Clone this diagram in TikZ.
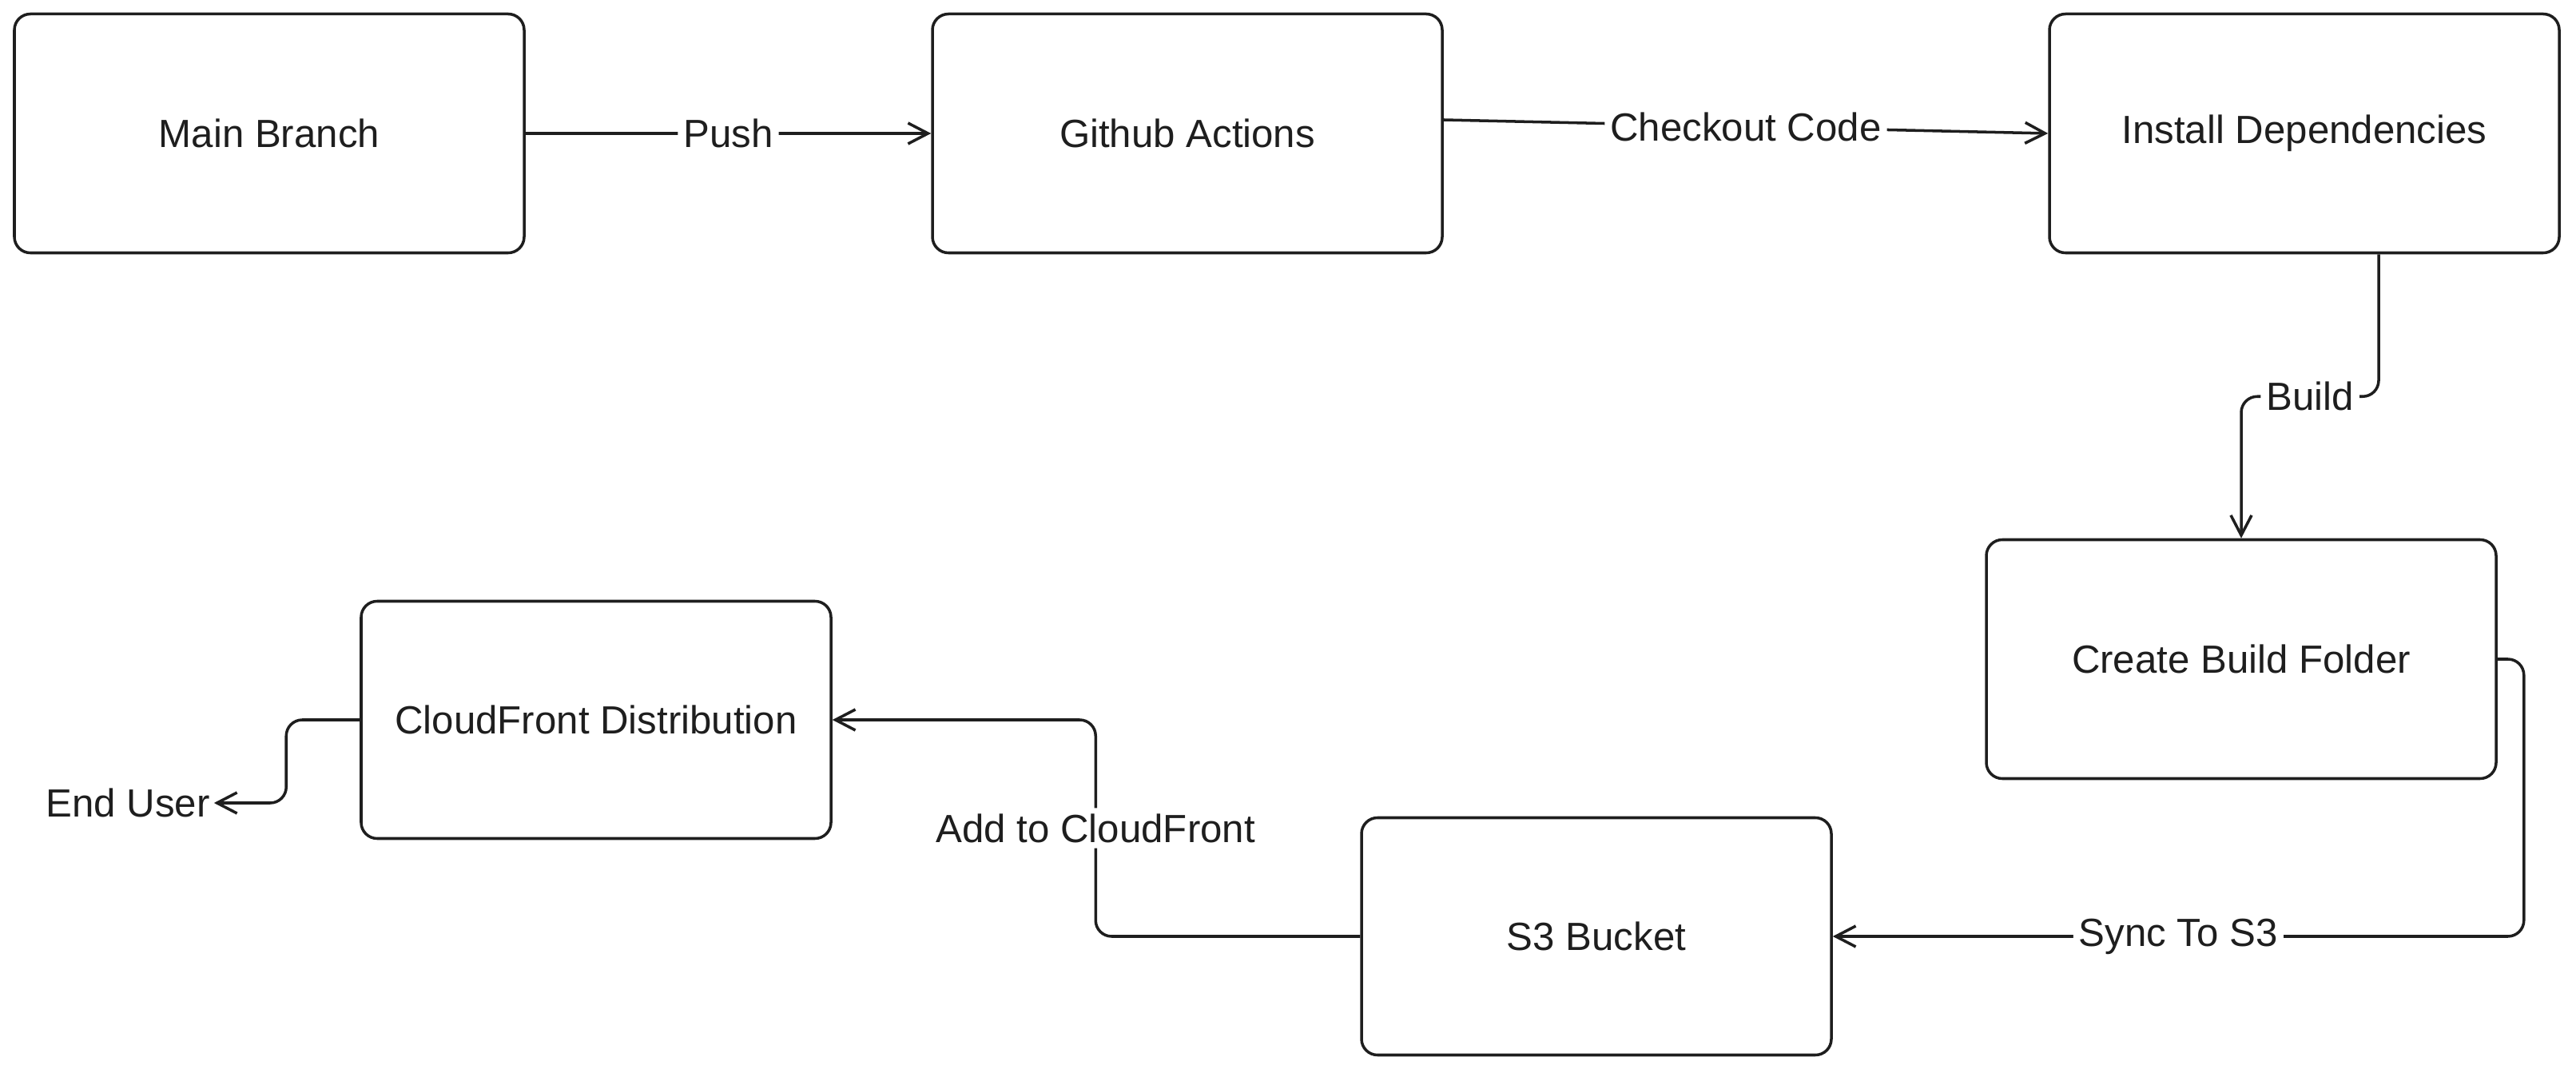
\documentclass[tikz,border=0pt]{standalone}
\usepackage{fontspec}
\setmainfont{Liberation Sans}
\definecolor{customdark}{RGB}{30, 30, 30}
\usetikzlibrary{arrows.meta,positioning}

\begin{document}
\begin{tikzpicture}[line width=1pt, draw=customdark, text=customdark,
    every node/.style={font=\fontsize{14}{17}\selectfont},
    box/.style={draw=customdark, rounded corners=0.2cm, minimum width=6.38cm, minimum height=2.99cm},
    smallbox/.style={box, minimum width=5.88cm, minimum height=2.97cm},
    arr/.style={-{Straight Barb[length=2.5mm, width=2.6mm]}, rounded corners=0.2cm},
    lbl/.style={fill=white, inner sep=2pt}]
    \useasboundingbox (0,0) rectangle (32.24,-13.43);

    \node[box] (main) at (3.37,-1.67) {Main Branch};
    \node[box] (gh) at (14.86,-1.67) {Github Actions};
    \node[box] (inst) at (28.84,-1.67) {Install Dependencies};
    \node[box] (build) at (28.05,-8.25) {Create Build Folder};
    \node[smallbox] (s3) at (19.98,-11.72) {S3 Bucket};
    \node[smallbox] (cf) at (7.46,-9.01) {CloudFront Distribution};
    \node[inner sep=1pt] (user) at (1.60,-10.05) {End User};

    \coordinate (bstart) at ([xshift=9.3mm]inst.south);

    \draw[arr] (main) -- node[lbl] {Push} (gh);
    \draw[arr] ([yshift=1.7mm]gh.east) -- node[lbl] {Checkout Code} (inst.west);
    \draw[arr] (bstart) -- ++(0,-1.78) -| node[lbl, pos=0.25] {Build} (build.north);
    \draw[arr] (build.east) -- ++(0.33,0) |- node[lbl, pos=0.75] {Sync To S3} (s3.east);
    \draw[arr] (s3.west) -- ++(-3.31,0) |- node[lbl, pos=0.25] {Add to CloudFront} (cf.east);
    \draw[arr] (cf.west) -- ++(-0.92,0) |- (user.east);
\end{tikzpicture}
\end{document}
